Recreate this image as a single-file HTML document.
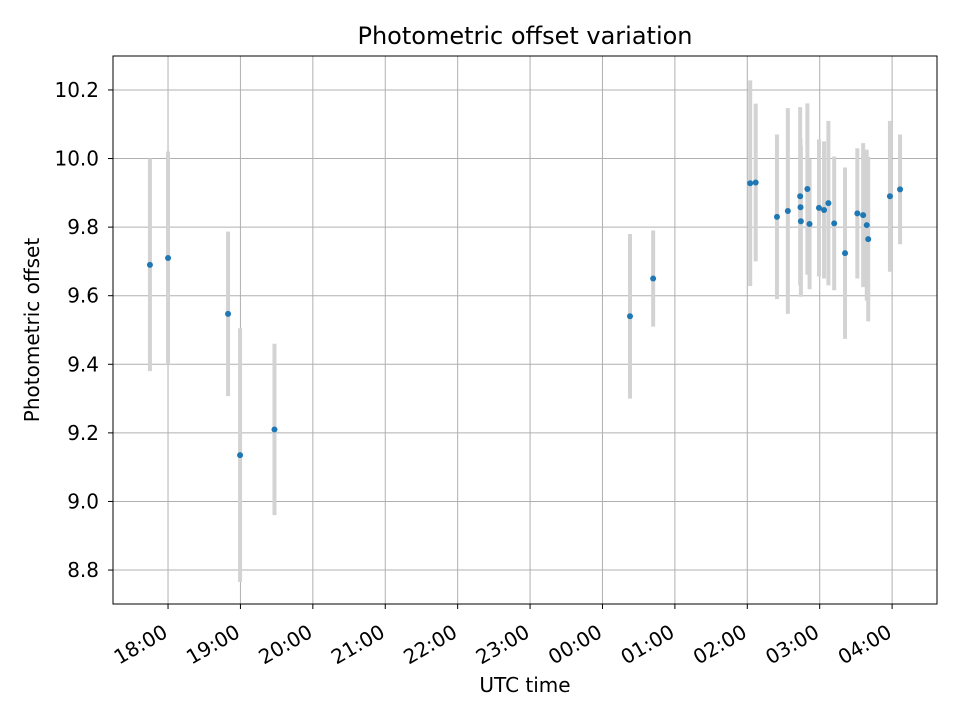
<!DOCTYPE html>
<html><head><meta charset="utf-8"><style>body{margin:0;background:#fff}svg{display:block;font-family:"DejaVu Sans","Liberation Sans",sans-serif}</style></head>
<body>
<svg id="chart" width="960" height="720">
<rect x="0" y="0" width="960" height="720" fill="#fff"/>
<text x="525" y="44" text-anchor="middle" style="font-size:24px">Photometric offset variation</text>
<g id="grid"></g><g id="bars"></g><g id="pts"></g><g id="axes"></g>
<text x="525" y="692" text-anchor="middle" style="font-size:20px">UTC time</text>
<text transform="translate(39,330) rotate(-90)" text-anchor="middle" style="font-size:20px">Photometric offset</text>
</svg>
<script>
// hours after 18:00 UTC
const times=[-0.25,0,0.829,0.995,1.47,6.38,6.70,8.04,8.116,8.41,8.56,8.73,8.735,8.74,8.83,8.86,8.99,9.06,9.12,9.20,9.35,9.52,9.60,9.65,9.67,9.97,10.11];
const values=[9.69,9.71,9.547,9.135,9.21,9.54,9.65,9.928,9.93,9.83,9.847,9.89,9.858,9.817,9.911,9.809,9.856,9.85,9.87,9.811,9.724,9.84,9.835,9.806,9.765,9.89,9.91];
const errors=[0.31,0.31,0.24,0.37,0.25,0.24,0.14,0.30,0.23,0.24,0.30,0.26,0.2,0.22,0.25,0.19,0.2,0.2,0.24,0.195,0.25,0.19,0.21,0.22,0.24,0.22,0.16];
const xTicks=[0,1,2,3,4,5,6,7,8,9,10];
const xLabels=["18:00","19:00","20:00","21:00","22:00","23:00","00:00","01:00","02:00","03:00","04:00"];
const yTicks=[8.8,9.0,9.2,9.4,9.6,9.8,10.0,10.2];
const L=113,R=937,T=56,B=604;
const X=h=>L+(h+0.76)/(10.62+0.76)*(R-L);
const Y=v=>T+(10.299-v)/(10.299-8.701)*(B-T);
const NS="http://www.w3.org/2000/svg";
function mk(p,t,a){const e=document.createElementNS(NS,t);for(const k in a)e.setAttribute(k,a[k]);p.appendChild(e);return e;}
const g=document.getElementById('grid'),ax=document.getElementById('axes'),bars=document.getElementById('bars'),pts=document.getElementById('pts');
xTicks.forEach((h,i)=>{const x=X(h);
 const l=mk(g,'line',{x1:x,x2:x,y1:T,y2:B,stroke:'#b0b0b0','stroke-width':1});
 
 
 mk(ax,'line',{x1:x,x2:x,y1:B,y2:B+5,stroke:'#000'});
 const t=mk(ax,'text',{transform:`translate(${x+1},${B+32}) rotate(-30)`,'text-anchor':'end',style:'font-size:20px'});
 t.textContent=xLabels[i];
 
 });
yTicks.forEach(v=>{const y=Y(v);
 const l=mk(g,'line',{x1:L,x2:R,y1:y,y2:y,stroke:'#b0b0b0','stroke-width':1});
 
 
 mk(ax,'line',{x1:L-5,x2:L,y1:y,y2:y,stroke:'#000'});
 const t=mk(ax,'text',{x:L-14,y:y+7,'text-anchor':'end',style:'font-size:20px'});
 t.textContent=v.toFixed(1);
 
 });
const f=mk(ax,'rect',{x:L,y:T,width:R-L,height:B-T,fill:'none',stroke:'#000','stroke-width':1});


times.forEach((h,i)=>{const x=X(h);
 const b=mk(bars,'line',{x1:x,x2:x,y1:Y(values[i]+errors[i]),y2:Y(values[i]-errors[i]),stroke:'#d3d3d3','stroke-width':4});
 
 
 const c=mk(pts,'circle',{cx:x,cy:Y(values[i]),r:3,fill:'#1f77b4'});
 
 });
</script>
</body></html>
